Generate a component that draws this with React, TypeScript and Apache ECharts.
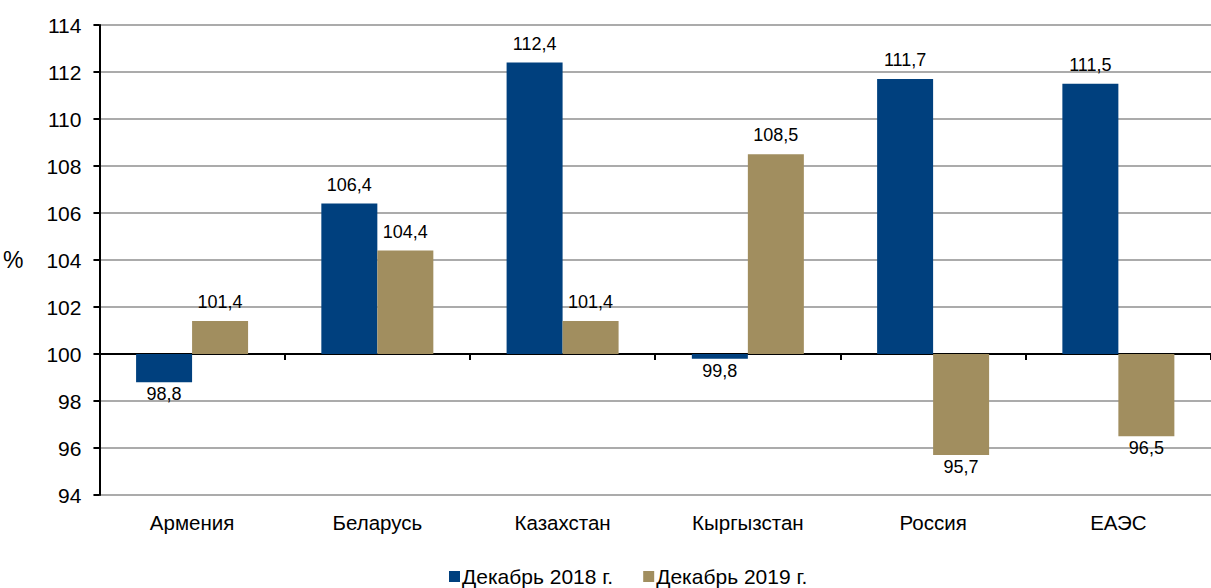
import React, { useEffect, useRef } from "react";
import * as echarts from "echarts";

const categories = ["Армения", "Беларусь", "Казахстан", "Кыргызстан", "Россия", "ЕАЭС"];
const series2018 = [98.8, 106.4, 112.4, 99.8, 111.7, 111.5];
const series2019 = [101.4, 104.4, 101.4, 108.5, 95.7, 96.5];
const seriesNames = ["Декабрь 2018 г.", "Декабрь 2019 г."];
const BASE = 100;

const fmt = (v: number) => v.toFixed(1).replace(".", ",");
const FONT = "Liberation Sans, Arial, sans-serif";

function makeData(arr: number[]) {
  return arr.map((v) => ({
    value: +(v - BASE).toFixed(2),
    label: { position: v >= BASE ? "top" : "bottom", distance: v >= BASE ? 10 : 3 },
  }));
}

export default function App() {
  const ref = useRef<HTMLDivElement>(null);
  useEffect(() => {
    const chart = echarts.init(ref.current!, null, { renderer: "svg" });
    const labelCommon = {
      show: true,
      color: "#000",
      fontFamily: FONT,
      fontSize: 18,
      formatter: (p: any) => fmt(p.value + BASE),
    };
    chart.setOption({
      animation: false,
      textStyle: { fontFamily: FONT },
      grid: { left: 99, top: 25, width: 1118, bottom: 93 },
      legend: {
        top: 561,
        left: 444,
        padding: [5, 5, 0, 5],
        itemWidth: 11,
        itemHeight: 11,
        itemGap: 30,
        icon: "rect",
        textStyle: { fontSize: 21, color: "#000", fontFamily: FONT, padding: [0, 0, 0, -3] },
        data: seriesNames,
      },
      xAxis: [
        {
          type: "category",
          data: categories,
          axisLine: { onZero: true, lineStyle: { color: "#000", width: 2 } },
          axisTick: { show: true, length: 6, lineStyle: { color: "#000", width: 2 } },
          axisLabel: { show: false },
        },
        {
          type: "category",
          data: categories,
          position: "bottom",
          axisLine: { show: false, onZero: false },
          axisTick: { show: false },
          axisLabel: { show: true, margin: 17, fontSize: 20.5, color: "#000", fontFamily: FONT },
        },
      ],
      yAxis: {
        type: "value",
        min: -6,
        max: 14,
        interval: 2,
        name: "%",
        nameLocation: "middle",
        nameRotate: 0,
        nameGap: 76,
        nameTextStyle: { fontSize: 23, color: "#000", fontFamily: FONT },
        axisLine: { show: true, lineStyle: { color: "#000", width: 2 } },
        axisTick: { show: true, length: 6, lineStyle: { color: "#000", width: 2 } },
        axisLabel: {
          margin: 18,
          fontSize: 21,
          color: "#000",
          fontFamily: FONT,
          formatter: (v: number) => String(v + BASE),
        },
        splitLine: { show: true, lineStyle: { color: "#8f8f8f", width: 1.5 } },
      },
      series: [
        {
          name: seriesNames[0],
          type: "bar",
          barWidth: 56,
          barGap: "0%",
          itemStyle: { color: "#00407E" },
          label: labelCommon,
          data: makeData(series2018),
        },
        {
          name: seriesNames[1],
          type: "bar",
          barWidth: 56,
          barGap: "0%",
          itemStyle: { color: "#A18E5F" },
          label: labelCommon,
          data: makeData(series2019),
        },
      ],
    });
    return () => chart.dispose();
  }, []);
  return <div ref={ref} style={{ width: 1211, height: 588, position: "absolute", left: 0, top: 0 }} />;
}
